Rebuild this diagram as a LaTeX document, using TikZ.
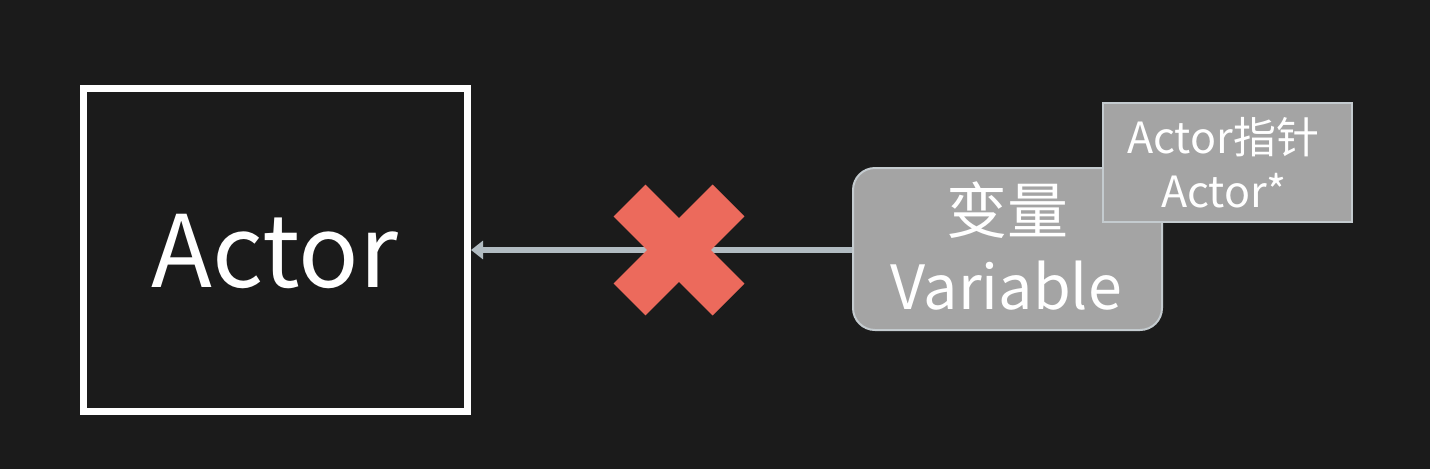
\documentclass[tikz,border=0pt]{standalone}
\usepackage{fontspec}
\setmainfont{Noto Sans CJK SC}
\usetikzlibrary{arrows.meta,calc}
\definecolor{board}{HTML}{1B1B1B}
\definecolor{boxgray}{HTML}{A4A4A4}
\definecolor{boxedge}{HTML}{C4CBCF}
\definecolor{arrowgray}{HTML}{B2BCC2}
\definecolor{crossred}{HTML}{EC6A5C}
\tikzset{
  actorbox/.style={draw=white, line width=7pt, minimum width=384pt, minimum height=323pt, inner sep=0pt},
  varbox/.style={draw=boxedge, fill=boxgray, line width=2pt, rounded corners=22pt, minimum width=309pt, minimum height=162pt, inner sep=0pt},
  ptrbox/.style={draw=boxedge, fill=boxgray, line width=2pt, minimum width=249pt, minimum height=119pt, inner sep=0pt},
  label/.style={text=white, inner sep=0pt, anchor=base},
  link/.style={draw=arrowgray, line width=6pt, -{Triangle[length=12pt,width=18pt]}},
  crossbar/.style={draw=crossred, line width=45pt, line cap=butt},
}
\begin{document}
\begin{tikzpicture}[x=1pt,y=-1pt]
\fill[board] (0,0) rectangle (1430,469);
\useasboundingbox (0,0) rectangle (1430,469);
% Actor box
\node[actorbox] (actor) at (275.5,250) {};
\node[label, font=\fontsize{100}{100}\selectfont] (actortxt) at (275,287) {Actor};
% Variable box
\node[varbox] (var) at (1007.5,249) {};
\node[label, font=\fontsize{61}{61}\selectfont] (vartxt1) at (1007,233) {变量};
\node[label, font=\fontsize{61}{61}\selectfont] (vartxt2) at (1006,309) {Variable};
% Pointer box
\node[ptrbox] (ptr) at (1227.5,162.5) {};
\node[label, font=\fontsize{43}{43}\selectfont] (ptrtxt1) at (1223,153) {Actor指针};
\node[label, font=\fontsize{43}{43}\selectfont] (ptrtxt2) at (1224,207) {Actor*};
% Arrow
\draw[link] ([yshift=-1pt]var.west) -- ([yshift=-1pt]var.west -| actor.east);
% Cross
\coordinate (x) at (679,250);
\draw[crossbar] ($(x)+(-49.5,-49.5)$) -- ($(x)+(49.5,49.5)$);
\draw[crossbar] ($(x)+(-49.5,49.5)$) -- ($(x)+(49.5,-49.5)$);
\end{tikzpicture}
\end{document}
